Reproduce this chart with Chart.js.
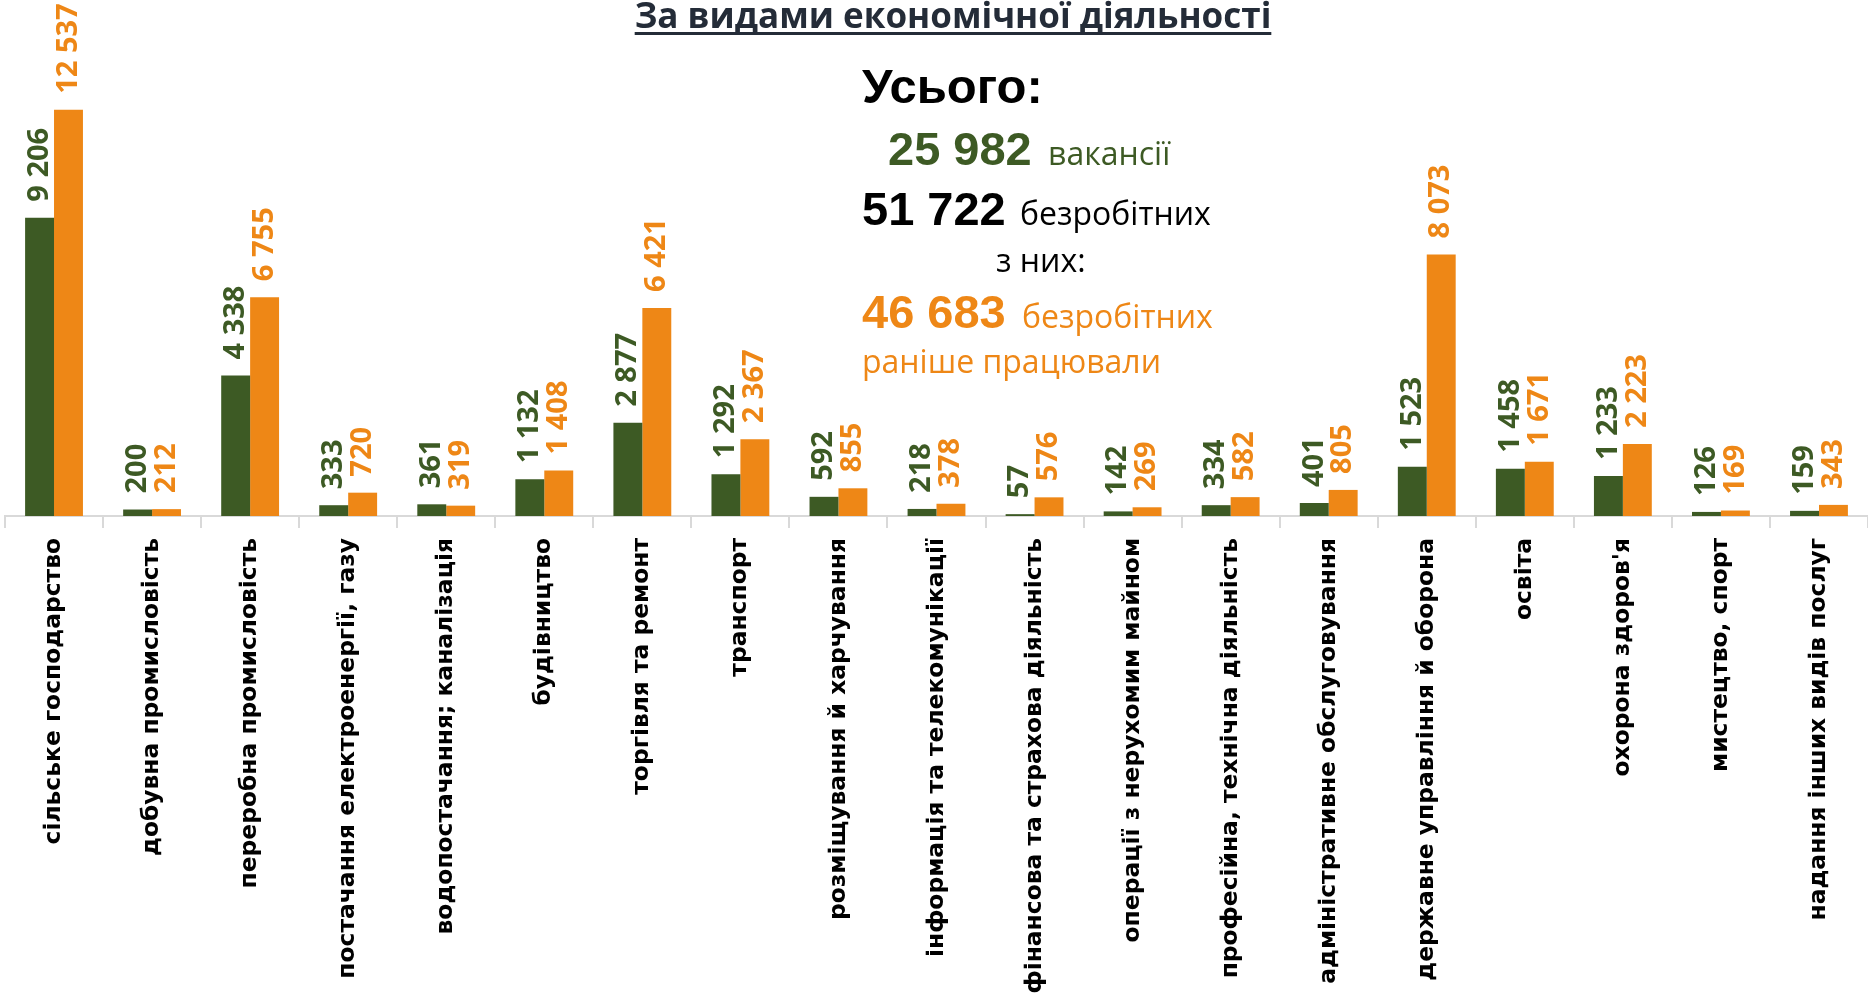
<!DOCTYPE html>
<html lang="uk">
<head>
<meta charset="utf-8">
<title>За видами економічної діяльності</title>
<script src="https://cdn.jsdelivr.net/npm/chart.js@4.4.1/dist/chart.umd.min.js"></script>
<style>
    html, body { margin: 0; padding: 0; background: #ffffff; }
    #wrap { position: relative; width: 1868px; height: 993px; }
</style>
</head>
<body>
<div id="wrap"><canvas id="activityChart"></canvas></div>
<script>
// Categories (economic activity types)
const categories = [
    'сільське господарство',
    'добувна промисловість',
    'переробна промисловість',
    'постачання електроенергії, газу',
    'водопостачання; каналізація',
    'будівництво',
    'торгівля та ремонт',
    'транспорт',
    'розміщування й харчування',
    'інформація та телекомунікації',
    'фінансова та страхова діяльність',
    'операції з нерухомим майном',
    'професійна, технічна діяльність',
    'адміністративне обслуговування',
    'державне управління й оборона',
    'освіта',
    'охорона здоров\'я',
    'мистецтво, спорт',
    'надання інших видів послуг'
];

// Vacancies
const vacancies = [9206, 200, 4338, 333, 361, 1132, 2877, 1292, 592, 218, 57, 142, 334, 401, 1523, 1458, 1233, 126, 159];

// Unemployed who worked before
const unemployed = [12537, 212, 6755, 720, 319, 1408, 6421, 2367, 855, 378, 576, 269, 582, 805, 8073, 1671, 2223, 169, 343];

// Summary block
const titleText = 'За видами економічної діяльності';
const totalVacancies = 25982;
const totalUnemployed = 51722;
const totalWorkedBefore = 46683;

const GREEN = '#3d5a24';
const ORANGE = '#ee8716';

function formatNum(v) {
    return String(v).replace(/\B(?=(\d{3})+(?!\d))/g, ' ');
}

/**
 * Rotated value labels above the bars
 */
const valueLabels = {
    id: 'valueLabels',
    afterDatasetsDraw(chart) {
        const ctx = chart.ctx;
        chart.data.datasets.forEach((ds, i) => {
            const meta = chart.getDatasetMeta(i);
            meta.data.forEach((bar, j) => {
                ctx.save();
                ctx.translate(bar.x, bar.y - 16);
                ctx.rotate(-Math.PI / 2);
                ctx.font = 'bold 29px "Open Sans"';
                ctx.fillStyle = ds.backgroundColor;
                ctx.textAlign = 'left';
                ctx.textBaseline = 'middle';
                ctx.fillText(formatNum(ds.data[j]), 0, 0);
                ctx.restore();
            });
        });
    }
};

/**
 * Title and totals
 */
const summaryText = {
    id: 'summaryText',
    afterDraw(chart) {
        const ctx = chart.ctx;
        ctx.save();
        ctx.textBaseline = 'alphabetic';

        // Title, underlined
        ctx.font = 'bold 35px "Open Sans"';
        ctx.fillStyle = '#242c38';
        ctx.textAlign = 'center';
        ctx.fillText(titleText, 953, 28);
        const tw = ctx.measureText(titleText).width;
        ctx.fillRect(953 - tw / 2, 32, tw, 3);

        ctx.textAlign = 'left';
        const bold = 'bold 47px "Liberation Sans"';
        const normal = '32px "Open Sans"';

        ctx.font = 'bold 49px "Liberation Sans"';
        ctx.fillStyle = '#000000';
        ctx.fillText('Усього:', 862, 103);

        ctx.font = bold;
        ctx.fillStyle = GREEN;
        ctx.fillText(formatNum(totalVacancies), 888, 165);
        ctx.font = normal;
        ctx.fillText('вакансії', 1048, 165);

        ctx.font = bold;
        ctx.fillStyle = '#000000';
        ctx.fillText(formatNum(totalUnemployed), 862, 225);
        ctx.font = normal;
        ctx.fillText('безробітних', 1020, 225);
        ctx.fillText('з них:', 996, 272);

        ctx.font = bold;
        ctx.fillStyle = ORANGE;
        ctx.fillText(formatNum(totalWorkedBefore), 862, 328);
        ctx.font = normal;
        ctx.fillText('безробітних', 1022, 328);
        ctx.fillText('раніше працювали', 862, 373);

        ctx.restore();
    }
};

const chartCtx = document.getElementById('activityChart').getContext('2d');

new Chart(chartCtx, {
    type: 'bar',
    data: {
        labels: categories,
        datasets: [{
            label: 'вакансії',
            data: vacancies,
            backgroundColor: GREEN,
            borderWidth: 0,
            barPercentage: 1,
            categoryPercentage: 0.59
        }, {
            label: 'безробітні, раніше працювали',
            data: unemployed,
            backgroundColor: ORANGE,
            borderWidth: 0,
            barPercentage: 1,
            categoryPercentage: 0.59
        }]
    },
    options: {
        responsive: true,
        maintainAspectRatio: false,
        animation: false,
        layout: {
            padding: { top: 30, left: 5, right: 0, bottom: 0 }
        },
        plugins: {
            legend: { display: false },
            title: { display: false },
            tooltip: { enabled: false }
        },
        scales: {
            y: {
                display: false,
                min: 0,
                max: 15000
            },
            x: {
                afterFit: function(scale) {
                    scale.height = 477;
                },
                border: {
                    display: true,
                    color: '#d9d9d9',
                    width: 2
                },
                grid: {
                    display: true,
                    offset: true,
                    drawOnChartArea: false,
                    drawTicks: true,
                    tickLength: 12,
                    color: '#d9d9d9',
                    lineWidth: 2
                },
                ticks: {
                    autoSkip: false,
                    minRotation: 90,
                    maxRotation: 90,
                    padding: 10,
                    color: '#000000',
                    font: {
                        family: '"DejaVu Sans"',
                        weight: 'bold',
                        size: 23.4
                    }
                }
            }
        }
    },
    plugins: [valueLabels, summaryText]
});
</script>
</body>
</html>
